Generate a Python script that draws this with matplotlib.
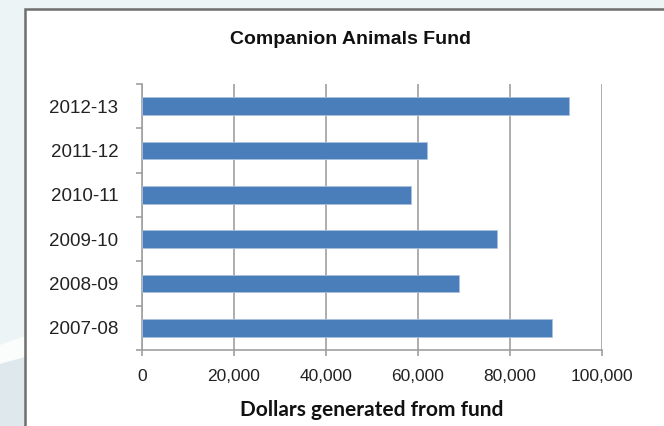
import matplotlib.pyplot as plt
from matplotlib.patches import Rectangle, Polygon
from matplotlib.ticker import FuncFormatter

years = ['2007-08', '2008-09', '2009-10', '2010-11', '2011-12', '2012-13']
dollars = [89100, 68900, 77200, 58500, 62000, 92800]
xticks = [0, 20000, 40000, 60000, 80000, 100000]

W, H = 664, 426
fig = plt.figure(figsize=(W / 100, H / 100), dpi=100)
fig.patch.set_facecolor('#edf4f6')


def px(x, y):
    return (x / W, 1 - y / H)


# slide background: light band then darker zone bottom left
fig.patches.append(Polygon([px(0, 345), px(25, 336), px(25, 357), px(0, 364)],
                           closed=True, transform=fig.transFigure,
                           facecolor='#fbfdfd', edgecolor='none', zorder=0))
fig.patches.append(Polygon([px(0, 364), px(25, 357), px(25, 426), px(0, 426)],
                           closed=True, transform=fig.transFigure,
                           facecolor='#dfe9ed', edgecolor='none', zorder=0))

# white chart frame
fig.patches.append(Rectangle(px(25, 436), 1.0, (436 - 9) / H,
                             transform=fig.transFigure, facecolor='white',
                             edgecolor='#6e6e6e', linewidth=1.8, zorder=1))

ax = fig.add_axes([142 / W, 76 / H, 460 / W, 266 / H])
ax.set_zorder(2)
ax.set_facecolor('none')

ax.barh(range(len(years)), dollars, height=0.4, color='#4a7ebb',
        edgecolor='#a9c1de', linewidth=0.6, zorder=3)

ax.set_xlim(0, 100000)
ax.set_ylim(-0.5, len(years) - 0.5)
ax.set_xticks(xticks)
ax.xaxis.set_major_formatter(FuncFormatter(lambda v, p: f'{int(v):,}'))
ax.set_yticks(range(len(years)))
ax.set_yticklabels(years)
ax.set_yticks([i - 0.5 for i in range(len(years) + 1)], minor=True)

ax.grid(axis='x', color='#a0a0a0', linewidth=1.2, zorder=0)
ax.tick_params(axis='y', which='major', length=0, pad=17,
               labelsize=13.5, labelcolor='#222222')
ax.tick_params(axis='y', which='minor', length=4, color='#a0a0a0', width=1.2)
ax.tick_params(axis='x', length=4, color='#a0a0a0', width=1.2, pad=10,
               labelsize=12.5, labelcolor='#222222')
for lab in ax.get_xticklabels() + ax.get_yticklabels():
    lab.set_family('Liberation Sans')

for s in ['top', 'right']:
    ax.spines[s].set_visible(False)
for s in ['left', 'bottom']:
    ax.spines[s].set_color('#a0a0a0')
    ax.spines[s].set_linewidth(1.2)

fig.text(350 / W, 1 - 40 / H, 'Companion Animals Fund', ha='center',
         va='center', fontsize=14, fontweight='bold',
         family='Liberation Sans', color='#111111')
fig.text(372 / W, 1 - 410 / H, 'Dollars generated from fund', ha='center',
         va='center', fontsize=15, fontweight='bold', family='Lato',
         color='#111111')

fig.savefig('out.png', dpi=100, facecolor=fig.get_facecolor())
